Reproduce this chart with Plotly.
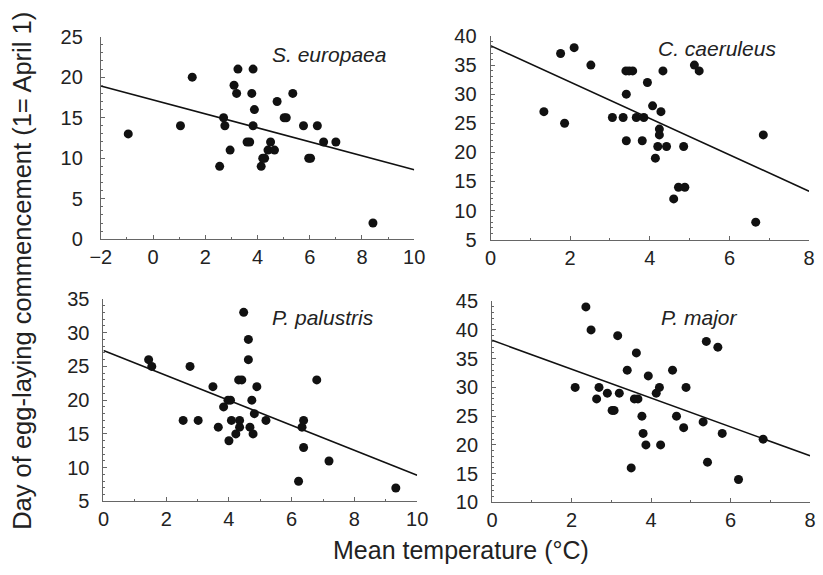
import plotly.graph_objects as go

# Mean spring temperature (°C) and first-egg date (day, 1 = April 1) per species
species = ["S. europaea", "C. caeruleus", "P. palustris", "P. major"]

se_temp = [-0.95, 1.05, 1.5, 2.55, 2.7, 2.75, 2.95, 3.1, 3.2, 3.25, 3.6, 3.7, 3.78, 3.83,
           3.88, 3.83, 4.14, 4.2, 4.27, 4.4, 4.5, 4.65, 4.75, 5.02, 5.1, 5.35, 5.76, 5.96,
           6.03, 6.29, 6.53, 7.0, 8.42]
se_day = [13, 14, 20, 9, 15, 14, 11, 19, 18, 21, 12, 12, 18, 21,
          16, 14, 9, 10, 10, 11, 12, 11, 17, 15, 15, 18, 14, 10,
          10, 14, 12, 12, 2]

cc_temp = [1.34, 1.76, 1.86, 2.1, 2.52, 3.06, 3.33, 3.4, 3.48, 3.57, 3.41, 3.41, 3.66,
           3.81, 3.85, 3.94, 4.07, 4.14, 4.2, 4.24, 4.24, 4.28, 4.33, 4.42, 4.6, 4.72,
           4.88, 4.85, 5.12, 5.24, 6.66, 6.85]
cc_day = [27, 37, 25, 38, 35, 26, 26, 34, 34, 34, 30, 22, 26,
          22, 26, 32, 28, 19, 21, 24, 23, 27, 34, 21, 12, 14,
          14, 21, 35, 34, 8, 23]

pp_temp = [1.44, 1.54, 2.54, 2.76, 3.02, 3.49, 3.66, 3.83, 3.97, 4.05, 4.0, 4.08, 4.22,
           4.34, 4.34, 4.31, 4.41, 4.47, 4.62, 4.62, 4.67, 4.73, 4.77, 4.81, 4.89, 5.18,
           6.22, 6.33, 6.38, 6.38, 6.8, 7.19, 9.32]
pp_day = [26, 25, 17, 25, 17, 22, 16, 19, 20, 20, 14, 17, 15,
          17, 16, 23, 23, 33, 29, 26, 16, 20, 15, 18, 22, 17,
          8, 16, 17, 13, 23, 11, 7]

pm_temp = [2.09, 2.36, 2.49, 2.63, 2.69, 2.9, 3.02, 3.07, 3.16, 3.2, 3.4, 3.5, 3.58,
           3.67, 3.63, 3.77, 3.8, 3.87, 3.93, 4.13, 4.21, 4.24, 4.54, 4.64, 4.82, 4.88,
           5.31, 5.39, 5.42, 5.68, 5.79, 6.2, 6.82]
pm_day = [30, 44, 40, 28, 30, 29, 26, 26, 39, 29, 33, 16, 28,
          28, 36, 25, 22, 20, 32, 29, 30, 20, 33, 25, 23, 30,
          24, 38, 17, 37, 22, 14, 21]

# Fitted regression lines: intercept and slope
intercepts = [17.19, 38.35, 27.35, 38.2]
slopes = [-0.861, -3.13, -1.846, -2.51]

# Axis ranges
x_ranges = [[-2, 10], [0, 8], [0, 10], [0, 8]]
y_ranges = [[0, 25], [5, 40], [5, 35], [10, 45]]

temps = [se_temp, cc_temp, pp_temp, pm_temp]
days = [se_day, cc_day, pp_day, pm_day]

W, H = 823, 575

# Panel plot areas in pixels: (left, right, top, bottom)
boxes = [(92.3, 414.3, 26.7, 237.3),
         (492.7, 820.0, 26.0, 237.7),
         (95.0, 417.3, 299.3, 510.0),
         (494.3, 821.0, 301.7, 511.0)]
label_pos = [(326.7, 45.7), (725.0, 39.3), (320.7, 318.3), (707.2, 319.0)]
ylab_standoff = [13, 9, 9, 9]

FONT = "Liberation Sans"
AXC = "#666666"
TXT = "#222222"

fig = go.Figure()
layout = dict(
    width=W, height=H,
    margin=dict(l=0, r=0, t=0, b=0),
    paper_bgcolor="white", plot_bgcolor="white",
    showlegend=False,
    font=dict(family=FONT, color=TXT),
)
annotations = []

for i in range(4):
    sfx = "" if i == 0 else str(i + 1)
    xa, ya = "x" + sfx, "y" + sfx
    l, r, t, b = boxes[i]
    x0, x1 = x_ranges[i]

    fig.add_trace(go.Scatter(
        x=temps[i], y=days[i], mode="markers", xaxis=xa, yaxis=ya,
        marker=dict(size=9, color="#111111"),
    ))
    fig.add_trace(go.Scatter(
        x=[x0, x1],
        y=[intercepts[i] + slopes[i] * x0, intercepts[i] + slopes[i] * x1],
        mode="lines", xaxis=xa, yaxis=ya,
        line=dict(color="#111111", width=1.6),
    ))

    common = dict(
        showline=True, linecolor=AXC, linewidth=1,
        ticks="inside", ticklen=4, tickcolor=AXC, tickwidth=1,
        showgrid=False, zeroline=False,
        tickfont=dict(family=FONT, size=20, color=TXT),
        minor=dict(dtick=1, ticks="inside", ticklen=2, tickcolor=AXC, showgrid=False),
    )
    layout["xaxis" + sfx] = dict(
        common, domain=[l / W, r / W], range=x_ranges[i],
        tickmode="linear", tick0=0, dtick=2, anchor=ya, ticklabelstandoff=0,
    )
    layout["yaxis" + sfx] = dict(
        common, domain=[1 - b / H, 1 - t / H], range=y_ranges[i],
        tickmode="linear", tick0=0, dtick=5, anchor=xa,
        ticklabelstandoff=ylab_standoff[i],
    )
    lx, ly = label_pos[i]
    annotations.append(dict(
        text="<i>" + species[i] + "</i>", xref="paper", yref="paper",
        x=lx / W, y=1 - ly / H, xanchor="center", yanchor="middle",
        showarrow=False, font=dict(family=FONT, size=21, color=TXT),
    ))

annotations.append(dict(
    text="Mean temperature (°C)", xref="paper", yref="paper",
    x=462 / W, y=1 - 560 / H, xanchor="center", yanchor="middle",
    showarrow=False, font=dict(family=FONT, size=25, color=TXT),
))
annotations.append(dict(
    text="Day of egg-laying commencement (1= April 1)", xref="paper", yref="paper",
    x=11 / W, y=1 - 270.5 / H, xanchor="center", yanchor="middle", textangle=-90,
    showarrow=False, font=dict(family=FONT, size=25.5, color=TXT),
))
layout["annotations"] = annotations

fig.update_layout(**layout)
fig.write_html("out.html")
